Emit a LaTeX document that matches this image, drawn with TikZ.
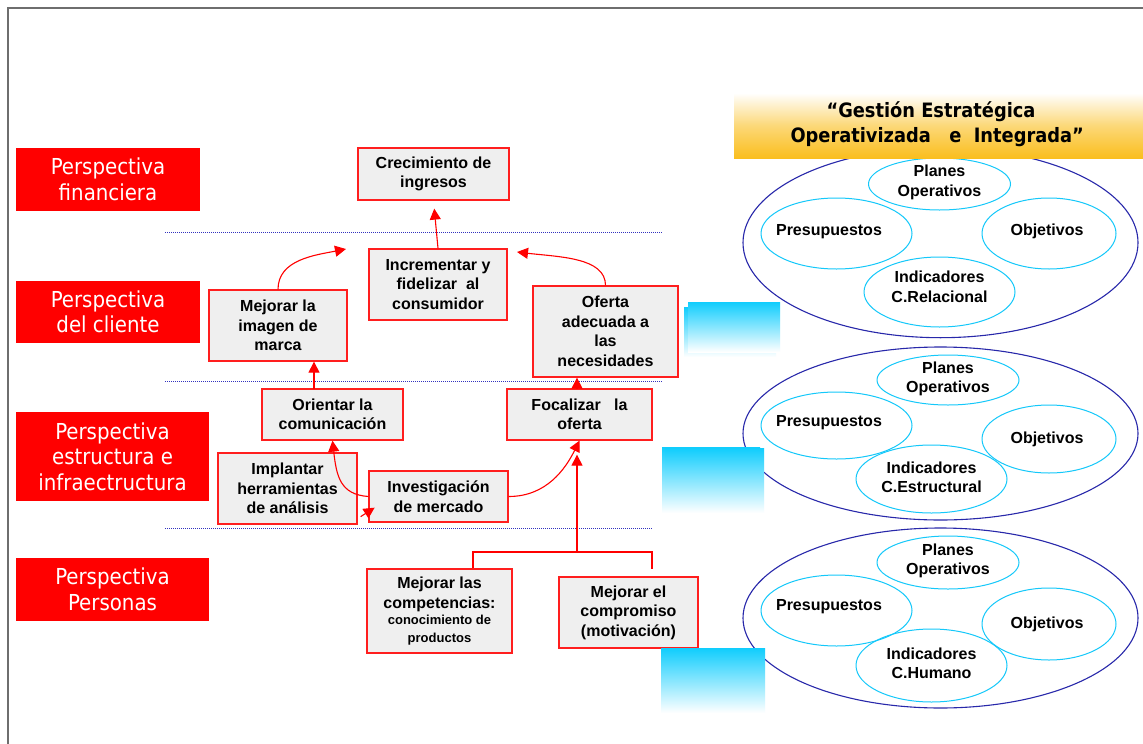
\documentclass[tikz,border=0pt]{standalone}
\usepackage{fontspec}
\setmainfont{Liberation Sans}
\newfontfamily\tah{DejaVu Sans Condensed}
\usetikzlibrary{arrows.meta,shapes.geometric}

\definecolor{boxred}{RGB}{255,30,30}
\definecolor{boxgray}{RGB}{239,239,239}
\definecolor{navy}{RGB}{40,40,170}
\definecolor{skyline}{RGB}{20,200,250}
\definecolor{skyfill}{RGB}{16,205,253}
\definecolor{amber}{RGB}{250,190,30}
\definecolor{dotblue}{RGB}{50,50,190}
\definecolor{framegray}{RGB}{110,110,110}

\tikzset{
  persp/.style={fill=red, text=white, align=center, inner sep=0pt,
    font=\tah\fontsize{22}{25.5}\selectfont},
  box/.style={draw=boxred, fill=boxgray, line width=1.3pt, align=center, inner sep=0pt,
    font=\bfseries\fontsize{16}{19.5}\selectfont},
  bigell/.style={draw=navy, ellipse, line width=1.1pt, inner sep=0pt},
  smallell/.style={draw=skyline, ellipse, line width=1pt, inner sep=0pt},
  elltext/.style={align=center, inner sep=0pt, font=\bfseries\fontsize{16}{19.5}\selectfont},
  conn/.style={draw=red, line width=1.1pt, -{Triangle[length=11pt,width=11pt]}},
  plainconn/.style={draw=red, line width=1.1pt},
  sep/.style={draw=dotblue, line width=0.9pt, dash pattern=on 1pt off 1pt},
  fade/.style={top color=skyfill, bottom color=white, draw=none},
}

\begin{document}
\begin{tikzpicture}[x=1pt,y=-1pt]
\useasboundingbox (0,0) rectangle (1143,744);
\fill[white] (0,0) rectangle (1143,744);

% page frame
\draw[framegray, line width=1.6pt] (8,744) -- (8,8) -- (1143,8);

% perspective labels
\node[persp, minimum width=184pt, minimum height=63pt] (pf) at (108,179.5) {Perspectiva\\financiera};
\node[persp, minimum width=184pt, minimum height=62pt] (pc) at (108,312) {Perspectiva\\del cliente};
\node[persp, minimum width=193pt, minimum height=89pt] (pe) at (112.5,456.5) {Perspectiva\\estructura e\\infraectructura};
\node[persp, minimum width=193pt, minimum height=63pt] (pp) at (112.5,589.5) {Perspectiva\\Personas};

% level separators
\draw[sep] (165,232) -- (662,232);
\draw[sep] (165,381) -- (662,381);
\draw[sep] (165,528) -- (653,528);

% strategy map boxes
\node[box, minimum width=151pt, minimum height=52pt] (crec) at (433.5,174) {Crecimiento de\\ingresos};
\node[box, minimum width=138pt, minimum height=71pt] (incr) at (438,284.5) {Incrementar y\\fidelizar\ \ al\\consumidor};
\node[box, minimum width=138pt, minimum height=71pt] (imag) at (278,325.5) {Mejorar la\\imagen de\\marca};
\node[box, minimum width=145pt, minimum height=91pt] (ofer) at (605.5,331.5) {Oferta\\adecuada a\\las\\necesidades};
\node[box, minimum width=141pt, minimum height=51pt] (orie) at (332.5,414.5) {Orientar la\\comunicación};
\node[box, minimum width=145pt, minimum height=51pt] (foca) at (579.5,414.5) {Focalizar\ \ \ la\\oferta};
\node[box, minimum width=139pt, minimum height=71pt] (impl) at (287.5,488.5) {Implantar\\herramientas\\de análisis};
\node[box, minimum width=139pt, minimum height=51pt] (inve) at (438.5,496.5) {Investigación\\de mercado};
\node[box, minimum width=145pt, minimum height=84pt] (comp) at (439.5,611) {Mejorar las\\competencias:\\[-3pt]{\fontsize{13}{16}\selectfont conocimiento de}\\[-2pt]{\fontsize{13}{16}\selectfont productos}};
\node[box, minimum width=139pt, minimum height=71pt] (comr) at (628.5,612.5) {Mejorar el\\compromiso\\(motivación)};

% free ends, exits and junctions
\coordinate (tA) at (346,249);
\coordinate (tB) at (517,252);
\coordinate (ox) at (314,389);
\coordinate (fx) at (577,389);
\coordinate (jm) at (577,552);
\coordinate (jl) at (473,552);
\coordinate (jr) at (652,552);

% cause-effect links
\draw[conn, shorten >=8pt] (incr.north) -- (crec.south);
\draw[conn] (imag.north) .. controls +(0,-30) and +(-30,6) .. (tA);
\draw[conn] (ofer.north) .. controls +(0,-28) and +(42,5) .. (tB);
\draw[conn] (ox) -- (ox |- imag.south);
\draw[conn] (fx) -- (fx |- ofer.south);
\draw[conn] (inve.west) .. controls +(-28,-2) and +(4,36) .. (orie.south);
\draw[conn] (inve.east) .. controls +(38,0) and +(-14,28) .. (foca.south);
\draw[conn] ([shift={(3pt,8pt)}]impl.south east) -- ([shift={(17pt,17pt)}]impl.south east);
\draw[conn, shorten >=14pt] (jm) -- (jm |- foca.south);
\draw[plainconn] (jl |- comp.north) -- (jl) -- (jr) -- ([yshift=7pt]jr |- comr.north);

% outer scope ellipses
\node[bigell, minimum width=395pt, minimum height=190pt] (E1) at (940.5,242.7) {};
\node[bigell, minimum width=395pt, minimum height=173pt] (E2) at (940.5,433.5) {};
\node[bigell, minimum width=395pt, minimum height=180pt] (E3) at (940.5,618) {};

% relational group
\node[smallell, minimum width=142pt, minimum height=52pt] (p1) at (939.5,184) {};
\node[smallell, minimum width=151pt, minimum height=71pt] (b1) at (836.5,233.5) {};
\node[smallell, minimum width=134pt, minimum height=71pt] (o1) at (1049,233.5) {};
\node[smallell, minimum width=151pt, minimum height=70pt] (i1) at (939.5,292) {};
\node[elltext] (p1t) at (939.5,182.5) {Planes\\Operativos};
\node[elltext] (b1t) at (829,232) {Presupuestos};
\node[elltext] (o1t) at (1047,231) {Objetivos};
\node[elltext] (i1t) at (939.5,287) {Indicadores\\C.Relacional};

% structural group
\node[smallell, minimum width=142pt, minimum height=50pt] (p2) at (948,380) {};
\node[smallell, minimum width=151pt, minimum height=67pt] (b2) at (836.5,425.5) {};
\node[smallell, minimum width=134pt, minimum height=68pt] (o2) at (1049,439) {};
\node[smallell, minimum width=151pt, minimum height=68pt] (i2) at (931.5,479) {};
\node[elltext] (p2t) at (948,379) {Planes\\Operativos};
\node[elltext] (b2t) at (829,423) {Presupuestos};
\node[elltext] (o2t) at (1047,439) {Objetivos};
\node[elltext] (i2t) at (931.5,477.5) {Indicadores\\C.Estructural};

% human group
\node[smallell, minimum width=142pt, minimum height=53pt] (p3) at (948,562.5) {};
\node[smallell, minimum width=151pt, minimum height=71pt] (b3) at (836.5,610.5) {};
\node[smallell, minimum width=134pt, minimum height=72pt] (o3) at (1049,624) {};
\node[smallell, minimum width=151pt, minimum height=73pt] (i3) at (931.5,665.5) {};
\node[elltext] (p3t) at (948,561) {Planes\\Operativos};
\node[elltext] (b3t) at (829,607) {Presupuestos};
\node[elltext] (o3t) at (1047,624) {Objetivos};
\node[elltext] (i3t) at (931.5,663.5) {Indicadores\\C.Humano};

% title banner
\shade[top color=white, bottom color=amber, middle color=amber!60] (734,93) rectangle (1143,158);
\node[align=center, font=\tah\bfseries\fontsize{19.8}{25}\selectfont] (title) at (931,124.5)
  {“Gestión Estratégica\\\ \ Operativizada\ \ \ e\ \ Integrada”};

% light-blue fading tabs
\shade[fade] (684,307) rectangle (776,357);
\shade[fade] (688,302) rectangle (780,352);
\shade[fade] (662,447) rectangle (760,513);
\shade[fade] (665,448) rectangle (764,513);
\shade[fade] (661,648) rectangle (765,713);
\end{tikzpicture}
\end{document}
